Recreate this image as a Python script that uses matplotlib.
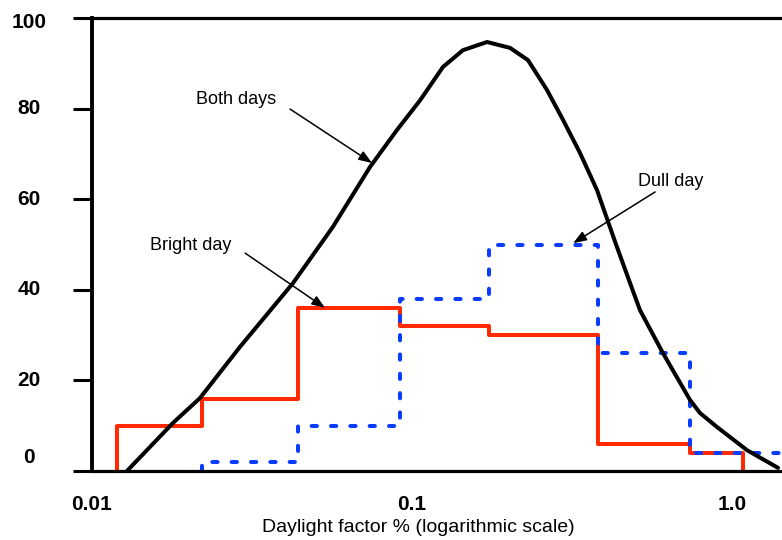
import matplotlib
matplotlib.use("Agg")
import matplotlib.pyplot as plt
from matplotlib.transforms import blended_transform_factory

plt.rcParams["font.family"] = ["Liberation Sans", "DejaVu Sans"]

# histogram bin edges shared by both days (daylight factor %)
bright_edges = [0.012, 0.022, 0.044, 0.092, 0.174, 0.38, 0.74, 1.08]
bright_values = [10, 16, 36, 32, 30, 6, 4]

dull_edges = [0.022, 0.044, 0.092, 0.174, 0.38, 0.74, 1.6]
dull_values = [2, 10, 38, 50, 26, 4]

# smooth curve for both days
both_x = [0.01286, 0.0179, 0.02175, 0.029, 0.0425, 0.0566, 0.0739, 0.0898,
          0.1059, 0.125, 0.1443, 0.1716, 0.2025, 0.2304, 0.2642, 0.2965,
          0.335, 0.3786, 0.4372, 0.4801, 0.5158, 0.6087, 0.7391, 0.7943,
          0.898, 1.114, 1.392]
both_y = [0, 10.6, 16.1, 27.4, 41.5, 53.9, 67.1, 75.3,
          81.8, 89.2, 92.9, 94.7, 93.4, 90.7, 84.1, 77.5,
          70.2, 62.0, 49.4, 41.5, 35.5, 26.0, 15.7, 12.8,
          9.7, 4.6, 0.7]

y_ticks = [0, 20, 40, 60, 80, 100]
x_ticks = [0.01, 0.1, 1.0]
x_tick_labels = ["0.01", "0.1", "1.0"]

fig = plt.figure(figsize=(7.82, 5.40), dpi=100)
ax = fig.add_axes([92 / 782, 1 - 471 / 540, 1 - 92 / 782, (471 - 18) / 540])

ax.set_xscale("log")
ax.set_xlim(0.01, 1.433)
ax.set_ylim(0, 100)

ax.plot(both_x, both_y, color="black", lw=2.9, solid_capstyle="round",
        solid_joinstyle="round", zorder=3)

ax.plot([bright_edges[0]] + bright_edges, [0] + bright_values + [0],
        drawstyle="steps-post", color="#ff2a00", lw=2.9, zorder=2)

dull_line, = ax.plot([dull_edges[0]] + dull_edges, [0] + dull_values + [0],
                     drawstyle="steps-post", color="#0a3cff", lw=2.9,
                     dash_capstyle="round", zorder=2)
dull_line.set_dashes([1.3, 3.5])

# spines and ticks
ax.spines["right"].set_visible(False)
ax.spines["left"].set_linewidth(2.8)
ax.spines["bottom"].set_linewidth(2.3)
ax.spines["top"].set_linewidth(2.3)

ax.set_yticks(y_ticks)
ax.set_yticklabels([])
ax.tick_params(axis="y", direction="out", length=14, width=2.2)

ax.set_xticks(x_ticks)
ax.set_xticklabels(x_tick_labels, fontsize=15, fontweight="bold")
ax.xaxis.set_minor_locator(plt.NullLocator())
ax.tick_params(axis="x", length=0, pad=17)

# y labels sit a little inside at the ends
trans = blended_transform_factory(ax.transAxes, ax.transData)
label_y = {0: 2.9, 100: 98.9}
for v in y_ticks:
    ax.text(-0.0913, label_y.get(v, v), str(v), transform=trans,
            ha="center", va="center", fontsize=15, fontweight="bold")

fig.text(418 / 782, 1 - 528 / 540, "Daylight factor % (logarithmic scale)",
         ha="center", va="center", fontsize=14)

arrow = dict(arrowstyle="-|>,head_length=0.8,head_width=0.3", lw=1.1,
             color="black", shrinkA=0, shrinkB=0)

ax.text(0.0282, 81.9, "Both days", ha="center", va="center", fontsize=13)
ax.annotate("", xy=(0.075, 68.0), xytext=(0.04157, 79.9), arrowprops=arrow)

ax.text(0.0204, 49.7, "Bright day", ha="center", va="center", fontsize=13)
ax.annotate("", xy=(0.0535, 36.0), xytext=(0.0301, 48.1), arrowprops=arrow)

ax.text(0.645, 63.8, "Dull day", ha="center", va="center", fontsize=13)
ax.annotate("", xy=(0.319, 50.3), xytext=(0.575, 61.6), arrowprops=arrow)

fig.savefig("out.png", dpi=100)
